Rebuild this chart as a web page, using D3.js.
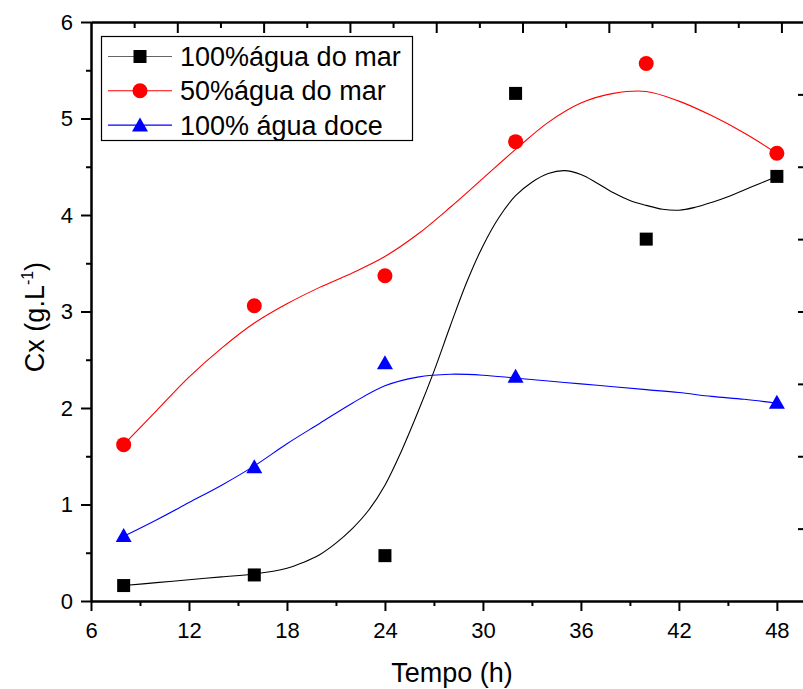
<!DOCTYPE html>
<html>
<head>
<meta charset="utf-8">
<script src="https://cdn.jsdelivr.net/npm/d3@7"></script>
<style>
  html, body { margin: 0; padding: 0; background: #fff; }
  svg { display: block; font-family: "Liberation Sans", Arial, sans-serif; }
</style>
</head>
<body>
<svg id="chart" width="803" height="689"></svg>
<script>
// ---------- data ----------
const times = [8, 16, 24, 32, 40, 48];
const seaWater100 = [0.16, 0.27, 0.47, 5.26, 3.75, 4.40];
const seaWater50  = [1.62, 3.06, 3.37, 4.76, 5.57, 4.64];
const freshTimes  = [8, 16, 24, 32, 48];
const freshWater  = [0.68, 1.39, 2.47, 2.33, 2.06];

// fitted (smoothed) curves
const fitSea100X = [8, 10, 12, 14, 16, 18, 19, 20, 21, 22, 23, 24, 25, 26, 27, 28, 29, 30, 31, 32, 33, 34, 35, 36, 37, 38, 39, 40, 41, 42, 43, 44, 45, 46, 47, 48];
const fitSea100Y = [0.16, 0.19, 0.22, 0.25, 0.28, 0.34, 0.40, 0.48, 0.60, 0.75, 0.94, 1.20, 1.55, 1.95, 2.38, 2.85, 3.30, 3.68, 3.98, 4.20, 4.34, 4.43, 4.46, 4.42, 4.33, 4.23, 4.15, 4.10, 4.06, 4.05, 4.08, 4.13, 4.19, 4.26, 4.33, 4.40];
const fitSea50X = [8, 10, 12, 14, 16, 18, 20, 22, 24, 26, 28, 30, 32, 34, 36, 38, 40, 42, 44, 46, 48];
const fitSea50Y = [1.62, 1.97, 2.32, 2.62, 2.88, 3.08, 3.25, 3.40, 3.57, 3.80, 4.08, 4.38, 4.68, 4.96, 5.16, 5.26, 5.28, 5.18, 5.03, 4.85, 4.64];
const fitFreshX = [8, 10, 12, 14, 16, 18, 20, 22, 24, 26, 28, 30, 32, 34, 36, 38, 40, 42, 44, 46, 48];
const fitFreshY = [0.67, 0.84, 1.02, 1.20, 1.40, 1.63, 1.84, 2.05, 2.23, 2.32, 2.35, 2.34, 2.31, 2.28, 2.25, 2.22, 2.19, 2.16, 2.12, 2.09, 2.05];

const xTicks = [6, 12, 18, 24, 30, 36, 42, 48];
const yTicks = [0, 1, 2, 3, 4, 5, 6];
const seriesNames = ["100%água do mar", "50%água do mar", "100% água doce"];
const seriesColors = ["#000000", "#ff0000", "#0000ff"];

// ---------- layout ----------
const svg = d3.select("#chart");
const L = 91, R = 803, T = 22, B = 601;

const x = d3.scaleLinear().domain([6, 49.6]).range([L, R]);
const y = d3.scaleLinear().domain([0, 6]).range([B, T]);
// mirrored axes of the original have their own tick spacing
const xTop = d3.scaleLinear().domain([0, 16.5]).range([L, R]);
const yRight = d3.scaleLinear().domain([0, 8]).range([B, T]);

const g = svg.append("g");

// ---------- curves ----------
const line = d3.line().x(d => x(d[0])).y(d => y(d[1])).curve(d3.curveCatmullRom.alpha(0.5));
const fits = [
  d3.zip(fitSea100X, fitSea100Y),
  d3.zip(fitSea50X, fitSea50Y),
  d3.zip(fitFreshX, fitFreshY)
];
fits.forEach((pts, i) => {
  g.append("path").attr("d", line(pts)).attr("fill", "none")
    .attr("stroke", seriesColors[i]).attr("stroke-width", 1.1);
});

// ---------- markers ----------
function square(sel, cx, cy, c) {
  sel.append("rect").attr("x", cx - 6.5).attr("y", cy - 6.5).attr("width", 13).attr("height", 13).attr("fill", c);
}
function circle(sel, cx, cy, c) {
  sel.append("circle").attr("cx", cx).attr("cy", cy).attr("r", 7.5).attr("fill", c);
}
function tri(sel, cx, cy, c) {
  sel.append("path").attr("d", `M${cx},${cy - 7.5}L${cx + 8},${cy + 6.5}L${cx - 8},${cy + 6.5}Z`).attr("fill", c);
}
times.forEach((t, i) => square(g, x(t), y(seaWater100[i]), seriesColors[0]));
times.forEach((t, i) => circle(g, x(t), y(seaWater50[i]), seriesColors[1]));
freshTimes.forEach((t, i) => tri(g, x(t), y(freshWater[i]), seriesColors[2]));

// ---------- axes ----------
const ax = svg.append("g");
const xMinor = d3.range(9, 49.6, 6);
const yMinor = d3.range(0.5, 6, 1);

// bottom
const gb = ax.append("g").attr("transform", `translate(0,${B})`);
gb.call(d3.axisBottom(x).tickValues(xTicks).tickSize(10).tickSizeOuter(0).tickFormat(d3.format("d")).tickPadding(11));
gb.append("g").call(d3.axisBottom(x).tickValues(xMinor).tickSize(5).tickSizeOuter(0).tickFormat(""));
// left
const gl = ax.append("g").attr("transform", `translate(${L},0)`);
gl.call(d3.axisLeft(y).tickValues(yTicks).tickSize(10).tickSizeOuter(0).tickFormat(d3.format("d")).tickPadding(8));
gl.append("g").call(d3.axisLeft(y).tickValues(yMinor).tickSize(5).tickSizeOuter(0).tickFormat(""));
// top (ticks inward)
const gt = ax.append("g").attr("transform", `translate(0,${T})`);
gt.call(d3.axisBottom(xTop).tickValues(d3.range(2, 17, 2)).tickSize(11).tickSizeOuter(0).tickFormat(""));
gt.append("g").call(d3.axisBottom(xTop).tickValues(d3.range(1, 17, 2)).tickSize(6).tickSizeOuter(0).tickFormat(""));
// right (ticks inward; the axis line itself sits just past the picture edge)
const gr = ax.append("g").attr("transform", `translate(${R + 1.5},0)`);
gr.call(d3.axisLeft(yRight).tickValues(d3.range(1, 8)).tickSize(6.5).tickSizeOuter(0).tickFormat(""));

ax.selectAll(".domain").attr("stroke", "#000").attr("stroke-width", 2);
ax.selectAll(".tick line").attr("stroke", "#000").attr("stroke-width", 2);
ax.selectAll(".tick text").attr("fill", "#000").style("font-size", "22px")
  .style("font-family", '"Liberation Sans", Arial, sans-serif');

// axis titles
svg.append("text").attr("x", 452).attr("y", 682)
  .attr("text-anchor", "middle").style("font-size", "27px").text("Tempo (h)");
const yt = svg.append("text").attr("transform", `translate(44,317) rotate(-90)`)
  .attr("text-anchor", "middle").style("font-size", "27px");
yt.append("tspan").text("Cx (g.L");
yt.append("tspan").attr("dy", -11).style("font-size", "16px").text("-1");
yt.append("tspan").attr("dy", 11).text(")");

// ---------- legend ----------
const lg = svg.append("g");
lg.append("rect").attr("x", 101.5).attr("y", 36.5).attr("width", 311).attr("height", 104)
  .attr("fill", "#fff").attr("stroke", "#000").attr("stroke-width", 1.2);
const markerFns = [square, circle, tri];
seriesNames.forEach((name, i) => {
  const cy = 56.5 + i * 34.3;
  lg.append("line").attr("x1", 108).attr("x2", 172).attr("y1", cy).attr("y2", cy)
    .attr("stroke", seriesColors[i]).attr("stroke-width", 1.1).attr("opacity", i === 0 ? 0.6 : 1);
  markerFns[i](lg, 140, cy, seriesColors[i]);
  lg.append("text").attr("x", 180).attr("y", cy + 9.5).style("font-size", "27px").attr("fill", "#000").text(name);
});
</script>
</body>
</html>
